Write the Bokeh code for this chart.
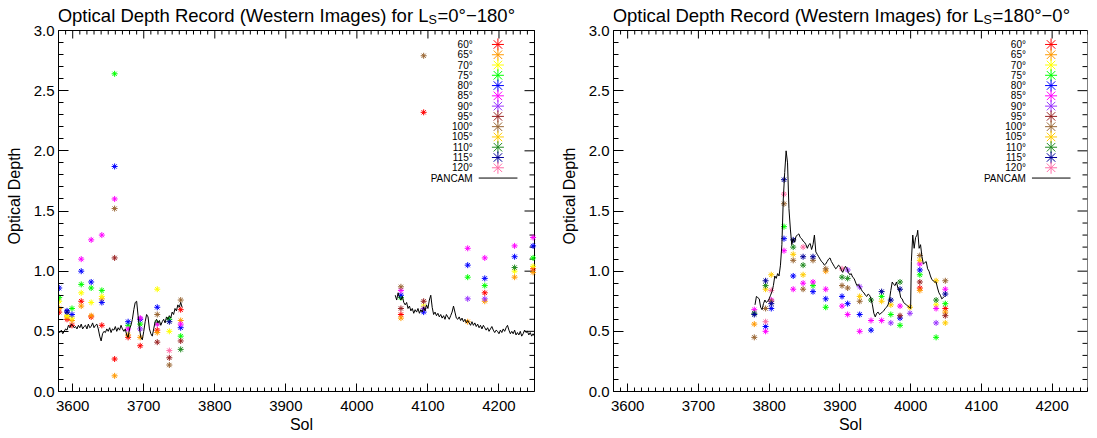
from bokeh.plotting import figure
from bokeh.models import Range1d, SingleIntervalTicker, PrintfTickFormatter
from bokeh.layouts import row
from bokeh.embed import file_html
from bokeh.resources import INLINE
from bokeh.core.properties import value

FONT = "Liberation Sans"

# ---------------- legend / series definitions ----------------
angles = [60, 65, 70, 75, 80, 85, 90, 95, 100, 105, 110, 115, 120]
angle_labels = ["60°", "65°", "70°", "75°", "80°", "85°", "90°", "95°",
                "100°", "105°", "110°", "115°", "120°"]
angle_colors = ["#FF0000", "#FF9900", "#FFFF00", "#00FF00", "#0000FF", "#FF00FF",
                "#9933FF", "#992222", "#996633", "#FFCC00", "#228B22", "#000099", "#FF6FA8"]
title_main = "Optical Depth Record (Western Images) for L"
title_sub = "S"
title_ls = ["=0°\u2212180°", "=180°\u22120°"]

# ---------------- left panel (Ls 0-180) image points ----------------
left_col_sol = [3581, 3592, 3599, 3612, 3626, 3641, 3659, 3678, 3695, 3719, 3736, 3752,
                4062, 4094, 4156, 4180, 4222, 4248]
left_col_ang = [
    [80, 75, 70, 65, 60],
    [80, 115, 70, 65, 60],
    [75, 80, 70, 65, 60],
    [85, 80, 75, 70, 60, 65],
    [85, 80, 75, 70, 65, 60],
    [85, 75, 70, 65, 80, 60],
    [75, 80, 85, 100, 95, 60, 65],
    [80, 75, 85, 65, 60],
    [85, 80, 75, 90, 65, 60],
    [70, 80, 100, 75, 85, 60, 65, 95],
    [75, 115, 70, 120, 95, 100],
    [100, 60, 65, 85, 80, 75, 95, 110],
    [100, 85, 80, 75, 95, 60, 65],
    [100, 60, 95, 70, 90, 80],
    [85, 80, 75, 90, 65],
    [85, 80, 75, 60, 90, 65],
    [85, 80, 110, 70, 65],
    [85, 80, 75, 70, 60, 65],
]
left_col_tau = [
    [0.86, 0.78, 0.75, 0.69, 0.66],
    [0.67, 0.66, 0.63, 0.62, 0.60],
    [0.69, 0.64, 0.61, 0.59, 0.55],
    [1.10, 1.00, 0.89, 0.82, 0.75, 0.71],
    [1.26, 0.91, 0.86, 0.74, 0.63, 0.62],
    [1.30, 0.84, 0.79, 0.77, 0.74, 0.55],
    [2.64, 1.87, 1.60, 1.52, 1.11, 0.27, 0.13],
    [0.58, 0.55, 0.52, 0.47, 0.45],
    [0.61, 0.60, 0.56, 0.52, 0.45, 0.38],
    [0.85, 0.70, 0.64, 0.57, 0.56, 0.51, 0.49, 0.41],
    [0.60, 0.58, 0.50, 0.34, 0.28, 0.22],
    [0.76, 0.68, 0.59, 0.56, 0.53, 0.46, 0.42, 0.35],
    [0.87, 0.84, 0.80, 0.78, 0.69, 0.64, 0.61],
    [2.79, 2.32, 0.75, 0.71, 0.69, 0.66],
    [1.19, 1.05, 0.95, 0.77, 0.58],
    [1.11, 0.94, 0.88, 0.82, 0.77, 0.75],
    [1.21, 1.12, 1.03, 1.00, 0.95],
    [1.28, 1.21, 1.11, 1.04, 1.02, 0.99],
]

# ---------------- right panel (Ls 180-0) image points ----------------
right_col_sol = [3779, 3795, 3803, 3821, 3834, 3848, 3862, 3880, 3903, 3911, 3928, 3944,
                 3959, 3972, 3985, 3999, 4013, 4036, 4049]
right_col_ang = [
    [85, 110, 115, 65, 100],
    [115, 110, 105, 100, 120, 80, 85],
    [105, 120, 85, 100, 115, 80],
    [115, 120, 100, 75, 80, 85],
    [115, 110, 105, 100, 80, 85],
    [120, 115, 110, 105, 85, 100],
    [115, 100, 85, 75, 80],
    [100, 65, 85, 80, 75],
    [120, 110, 100, 80, 85],
    [90, 110, 100, 80, 85],
    [90, 105, 100, 80, 85],
    [110, 85, 80],
    [115, 75, 105, 85],
    [115, 105, 75, 90],
    [110, 115, 85, 95, 80, 75],
    [105, 90],
    [100, 105, 85, 80, 75, 95, 60, 65],
    [105, 110, 70, 85, 90, 75],
    [100, 85, 115, 75, 60, 65, 95, 105],
]
right_col_tau = [
    [0.68, 0.65, 0.64, 0.56, 0.45],
    [0.92, 0.88, 0.85, 0.69, 0.58, 0.54, 0.50],
    [0.97, 0.84, 0.76, 0.75, 0.73, 0.69],
    [1.76, 1.64, 1.56, 1.37, 1.27, 1.17],
    [1.26, 1.20, 1.14, 1.09, 0.96, 0.85],
    [1.20, 1.12, 1.05, 0.97, 0.90, 0.85],
    [1.12, 1.09, 0.91, 0.88, 0.83],
    [1.02, 1.00, 0.85, 0.77, 0.70],
    [1.02, 0.95, 0.88, 0.79, 0.71],
    [1.01, 0.94, 0.86, 0.73, 0.64],
    [0.87, 0.79, 0.75, 0.64, 0.50],
    [0.76, 0.59, 0.51],
    [0.83, 0.79, 0.75, 0.59],
    [0.76, 0.72, 0.64, 0.57],
    [0.91, 0.85, 0.71, 0.63, 0.61, 0.55],
    [0.70, 0.65],
    [1.13, 1.09, 1.06, 1.01, 0.97, 0.91, 0.86, 0.84],
    [0.92, 0.76, 0.72, 0.69, 0.57, 0.45],
    [0.92, 0.85, 0.81, 0.73, 0.69, 0.66, 0.63, 0.57],
]

# ---------------- PANCAM records ----------------
pancam_a_sol = [3580, 3582, 3584, 3586, 3588, 3590, 3592, 3594, 3596, 3598, 3600, 3602, 3604,
                3606, 3608, 3610, 3612, 3614, 3616, 3618, 3620, 3622, 3624, 3626, 3628, 3630,
                3632, 3634, 3636, 3638, 3640, 3642, 3644, 3646, 3648, 3650, 3652, 3654, 3656,
                3658, 3660, 3662, 3664, 3666, 3668, 3670, 3672, 3674, 3676, 3678, 3680, 3682,
                3684, 3686, 3688, 3690, 3692, 3694, 3696, 3698, 3700, 3702, 3704, 3706, 3708,
                3710, 3712, 3714, 3716, 3718, 3720, 3722, 3724, 3726, 3728, 3730, 3732, 3734,
                3736, 3738, 3740, 3742, 3744, 3746, 3748, 3750, 3752, 3754]
pancam_a_tau = [0.50, 0.49, 0.51, 0.48, 0.50, 0.52, 0.51, 0.55, 0.53, 0.56, 0.55, 0.53, 0.54,
                0.52, 0.55, 0.53, 0.56, 0.52, 0.54, 0.55, 0.52, 0.56, 0.53, 0.54, 0.57, 0.53,
                0.55, 0.56, 0.52, 0.46, 0.42, 0.48, 0.50, 0.49, 0.52, 0.50, 0.53, 0.49, 0.52,
                0.51, 0.54, 0.50, 0.53, 0.51, 0.55, 0.52, 0.50, 0.52, 0.47, 0.45, 0.52, 0.55,
                0.60, 0.68, 0.74, 0.75, 0.63, 0.52, 0.45, 0.43, 0.50, 0.58, 0.64, 0.62, 0.52,
                0.48, 0.46, 0.52, 0.58, 0.60, 0.57, 0.59, 0.55, 0.58, 0.60, 0.57, 0.62, 0.60,
                0.63, 0.61, 0.66, 0.64, 0.69, 0.67, 0.72, 0.70, 0.74, 0.70]

pancam_b_sol = [4054, 4056, 4058, 4060, 4062, 4064, 4066, 4068, 4070, 4072, 4074, 4076, 4078,
                4080, 4082, 4084, 4086, 4088, 4090, 4092, 4094, 4096, 4098, 4100, 4102, 4104,
                4106, 4108, 4110, 4112, 4114, 4116, 4118, 4120, 4122, 4124, 4126, 4128, 4130,
                4132, 4134, 4136, 4138, 4140, 4142, 4144, 4146, 4148, 4150, 4152, 4154, 4156,
                4158, 4160, 4162, 4164, 4166, 4168, 4170, 4172, 4174, 4176, 4178, 4180, 4182,
                4184, 4186, 4188, 4190, 4192, 4194, 4196, 4198, 4200, 4202, 4204, 4206, 4208,
                4210, 4212, 4214, 4216, 4218, 4220, 4222, 4224, 4226, 4228, 4230, 4232, 4234,
                4236, 4238, 4240, 4242, 4244, 4246, 4248, 4250]
pancam_b_tau = [0.80, 0.76, 0.82, 0.78, 0.76, 0.79, 0.74, 0.72, 0.74, 0.69, 0.71, 0.67, 0.69,
                0.65, 0.68, 0.66, 0.69, 0.65, 0.68, 0.66, 0.70, 0.67, 0.72, 0.69, 0.76, 0.80,
                0.70, 0.64, 0.66, 0.63, 0.65, 0.62, 0.64, 0.61, 0.63, 0.60, 0.64, 0.62, 0.60,
                0.63, 0.66, 0.71, 0.66, 0.61, 0.60, 0.62, 0.59, 0.61, 0.58, 0.60, 0.57, 0.59,
                0.57, 0.55, 0.58, 0.55, 0.57, 0.54, 0.56, 0.53, 0.55, 0.52, 0.55, 0.53, 0.51,
                0.53, 0.50, 0.52, 0.54, 0.51, 0.49, 0.51, 0.50, 0.48, 0.51, 0.49, 0.52, 0.50,
                0.53, 0.55, 0.51, 0.48, 0.50, 0.48, 0.51, 0.47, 0.49, 0.47, 0.50, 0.46, 0.48,
                0.51, 0.49, 0.50, 0.47, 0.49, 0.46, 0.48, 0.46]

pancam_c_sol = [3780, 3782, 3784, 3786, 3788, 3790, 3792, 3794, 3796, 3798, 3800, 3802, 3804,
                3806, 3808, 3810, 3812, 3814, 3816, 3818, 3820, 3822, 3824, 3826, 3828, 3830,
                3832, 3834, 3836, 3838, 3840, 3842, 3844, 3846, 3848, 3850, 3852, 3854, 3856,
                3858, 3860, 3862, 3864, 3866, 3868, 3870, 3872, 3874, 3876, 3878, 3880, 3882,
                3884, 3886, 3888, 3890, 3892, 3894, 3896, 3898, 3900, 3902, 3904, 3906, 3908,
                3910, 3912, 3914, 3916, 3918, 3920, 3922, 3924, 3926, 3928, 3930, 3932, 3934,
                3936, 3938, 3940, 3942, 3944, 3946, 3948, 3950, 3952, 3954, 3956, 3958, 3960,
                3962, 3964, 3966, 3968, 3970, 3972, 3974, 3976, 3978, 3980, 3982, 3984, 3986,
                3988, 3990, 3992, 3994, 3996, 3998, 4000, 4001, 4003, 4005, 4007, 4009, 4010,
                4012, 4014, 4016, 4018, 4020, 4022, 4024, 4026, 4028, 4030, 4032, 4034, 4036,
                4038, 4040, 4042, 4044, 4046, 4048]
pancam_c_tau = [0.72, 0.79, 0.78, 0.77, 0.70, 0.68, 0.73, 0.76, 0.74, 0.75, 0.77, 0.80, 0.83,
                0.88, 0.96, 0.94, 0.98, 0.96, 1.05, 1.22, 1.60, 1.82, 2.00, 1.90, 1.52, 1.35,
                1.22, 1.27, 1.24, 1.29, 1.30, 1.31, 1.28, 1.27, 1.25, 1.24, 1.22, 1.19, 1.22,
                1.23, 1.18, 1.22, 1.30, 1.16, 1.14, 1.12, 1.10, 1.08, 1.07, 1.05, 1.06, 1.08,
                1.10, 1.11, 1.08, 1.06, 1.04, 1.02, 1.03, 1.05, 1.04, 1.01, 0.99, 1.02, 1.04,
                1.02, 0.99, 0.97, 0.98, 0.95, 0.94, 0.91, 0.88, 0.89, 0.87, 0.85, 0.83, 0.82,
                0.80, 0.79, 0.81, 0.80, 0.77, 0.72, 0.65, 0.62, 0.65, 0.66, 0.64, 0.65, 0.66,
                0.67, 0.69, 0.70, 0.72, 0.76, 0.84, 0.91, 0.89, 0.88, 0.91, 0.86, 0.84, 0.78,
                0.77, 0.74, 0.73, 0.72, 0.71, 0.70, 0.69, 1.08, 1.30, 1.19, 1.28, 1.30, 1.34,
                1.19, 1.22, 1.12, 1.06, 1.07, 1.08, 1.02, 1.00, 0.96, 0.93, 0.92, 0.91, 0.91,
                0.86, 0.82, 0.80, 0.77, 0.78, 0.79]

# ---------------- layout constants ----------------
X_START, X_END = 3580, 4250
Y_START, Y_END = 0.0, 3.0
PLOT_H = 361          # px between y=0 and y=3
TITLE_H = 30          # px of title band above y=3 (inside the frame)
LEG_TEXT_X = 4163
LEG_SYM_X = 4198.5
LEG_LINE_X0, LEG_LINE_X1 = 4171.5, 4226
LEG_Y0, LEG_DY = 2.884, 0.0854
XMAJ_LEN, XMIN_LEN = 8, 4      # px, top/bottom ticks
YMAJ_LEN, YMIN_LEN = 10, 5     # px, left/right ticks
TITLE_JUNCTION = 370   # px from the plot's left edge where the subscript starts
TITLE_MID_PX = 15.4    # px above y=3 ... measured from the band top: middle of title
SUB_MID_PX = 10.3

# panel geometry (px): left border, plot width, spare frame width on right, right border
P1 = (58, 476, 10, 0)
P2 = (69, 474, 0, 2)


def style_axis(ax, is_x):
    ax.axis_line_color = "black"
    ax.axis_line_width = 1
    ax.major_tick_line_color = "black"
    ax.minor_tick_line_color = "black"
    ax.major_tick_out = 0
    ax.minor_tick_out = 0
    ax.major_label_text_font = FONT
    ax.major_label_text_font_size = "15px"
    ax.major_label_text_color = "black"
    ax.axis_label_text_font = FONT
    ax.axis_label_text_font_size = "16px"
    ax.axis_label_text_font_style = "normal"
    ax.axis_label_text_color = "black"
    if is_x:
        ax.bounds = (X_START, X_END)
        ax.major_tick_in = XMAJ_LEN
        ax.minor_tick_in = XMIN_LEN
        ax.ticker = SingleIntervalTicker(interval=100, num_minor_ticks=10)
        ax.major_label_standoff = 9
        ax.axis_label_standoff = 2
    else:
        ax.bounds = (Y_START, Y_END)
        ax.major_tick_in = YMAJ_LEN
        ax.minor_tick_in = YMIN_LEN
        ax.ticker = SingleIntervalTicker(interval=0.5, num_minor_ticks=5)
        ax.formatter = PrintfTickFormatter(format="%.1f")
        ax.major_label_standoff = 4
        ax.axis_label_standoff = 8


def make_panel(geom, ls_text, col_sol, col_ang, col_tau, segments):
    lb, fw, spare, rb = geom
    xpx = fw / (X_END - X_START)
    ypx = PLOT_H / (Y_END - Y_START)
    p = figure(title=None, frame_width=fw + spare, frame_height=PLOT_H + TITLE_H,
               x_range=Range1d(X_START, X_END + spare / xpx),
               y_range=Range1d(Y_START, Y_END + TITLE_H / ypx),
               output_backend="svg", toolbar_location=None,
               min_border_left=lb, min_border_right=rb,
               min_border_top=0, min_border_bottom=40,
               background_fill_color="white", border_fill_color="white")
    p.outline_line_color = None
    p.grid.visible = False
    style_axis(p.xaxis[0], True)
    style_axis(p.yaxis[0], False)
    p.xaxis.axis_label = "Sol"
    p.yaxis.axis_label = "Optical Depth"

    # top and right edges of the plot box, with mirrored inward ticks
    p.segment([X_START, X_END], [Y_END, Y_START], [X_END, X_END], [Y_END, Y_END],
              line_color="black", line_width=1)
    tx0, ty0, tx1, ty1 = [], [], [], []
    for k in range(0, (X_END - X_START) // 10 + 1):
        xv = X_START + 10 * k
        ln = XMAJ_LEN if xv % 100 == 0 else XMIN_LEN
        tx0.append(xv); tx1.append(xv); ty0.append(Y_END); ty1.append(Y_END - ln / ypx)
    for k in range(0, 31):
        yv = Y_START + 0.1 * k
        ln = YMAJ_LEN if k % 5 == 0 else YMIN_LEN
        tx0.append(X_END); tx1.append(X_END - ln / xpx); ty0.append(yv); ty1.append(yv)
    p.segment(tx0, ty0, tx1, ty1, line_color="black", line_width=1)

    # image points, one colour per emission angle
    for ang, col in zip(angles, angle_colors):
        xs, ys = [], []
        for s, al, tl in zip(col_sol, col_ang, col_tau):
            for a, t in zip(al, tl):
                if a == ang:
                    xs.append(s)
                    ys.append(t)
        if xs:
            p.scatter(xs, ys, marker="asterisk", size=6, line_color=col, line_width=1)

    for sx, sy in segments:
        p.line(sx, sy, line_color="black", line_width=1)

    # legend (labels left of symbols, IDL style)
    ly = [LEG_Y0 - i * LEG_DY for i in range(len(angles) + 1)]
    p.text(x=[LEG_TEXT_X] * len(angles), y=ly[:len(angles)], text=angle_labels,
           text_align="right", text_baseline="middle",
           text_font=value(FONT), text_font_size=value("10px"), text_color="black")
    p.scatter(x=[LEG_SYM_X] * len(angles), y=ly[:len(angles)], marker="asterisk",
              size=12, line_color=angle_colors, line_width=1)
    p.text(x=[LEG_TEXT_X], y=[ly[-1]], text=["PANCAM"], text_align="right",
           text_baseline="middle", text_font=value(FONT), text_font_size=value("10px"),
           text_color="black")
    p.line([LEG_LINE_X0, LEG_LINE_X1], [ly[-1], ly[-1]], line_color="black", line_width=1)

    # title with subscript S, in the band above the plot box
    jx = X_START + TITLE_JUNCTION / xpx
    ty = Y_END + (TITLE_H - TITLE_MID_PX) / ypx
    sy_ = Y_END + (TITLE_H - 19.7) / ypx
    p.text(x=[jx], y=[ty], text=[title_main], text_align="right", text_baseline="middle",
           text_font=value(FONT), text_font_size=value("18.5px"), text_color="black")
    p.text(x=[jx], y=[sy_], text=[title_sub], text_align="left", text_baseline="middle",
           text_font=value(FONT), text_font_size=value("12.5px"), text_color="black")
    p.text(x=[jx + 9 / xpx], y=[ty], text=[ls_text], text_align="left",
           text_baseline="middle", text_font=value(FONT), text_font_size=value("18.5px"),
           text_color="black")
    return p


p1 = make_panel(P1, title_ls[0], left_col_sol, left_col_ang, left_col_tau,
                [(pancam_a_sol, pancam_a_tau), (pancam_b_sol, pancam_b_tau)])
p2 = make_panel(P2, title_ls[1], right_col_sol, right_col_ang, right_col_tau,
                [(pancam_c_sol, pancam_c_tau)])

layout = row(p1, p2)
open("out.html", "w").write(file_html(layout, INLINE))
